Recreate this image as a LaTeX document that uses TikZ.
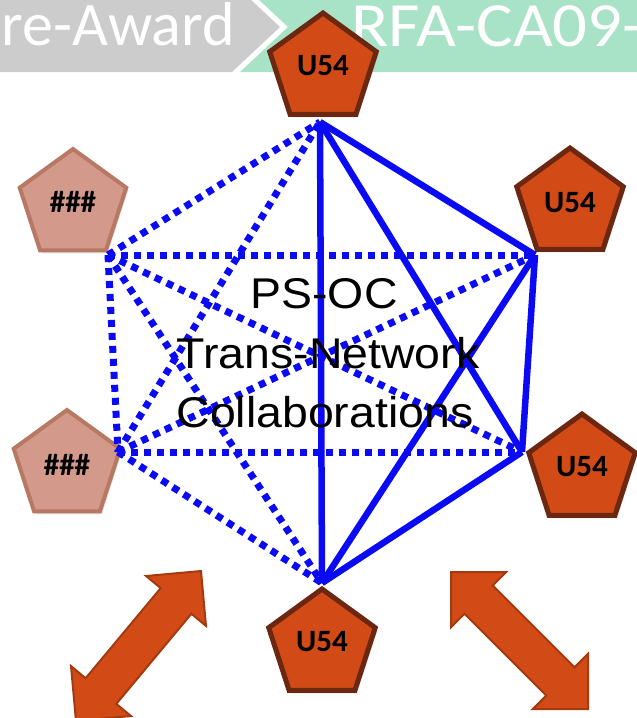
\documentclass[tikz,border=0pt]{standalone}
\usepackage{fontspec}
\setmainfont{Carlito}
\newfontfamily\arialfont{Liberation Sans}
\usetikzlibrary{shapes.geometric,shadows,calc}
\definecolor{bannergray}{HTML}{CCCCCC}
\definecolor{bannergreen}{HTML}{A8E3C8}
\definecolor{uorange}{HTML}{D24B16}
\definecolor{ubrown}{HTML}{6B2710}
\definecolor{salmon}{HTML}{D3998A}
\definecolor{salmonedge}{HTML}{B77864}
\definecolor{arrowedge}{HTML}{A33A10}
\definecolor{netblue}{HTML}{0A0AF5}
\tikzset{
  x=1pt,y=-1pt,
  upent/.style={regular polygon, regular polygon sides=5, minimum size=112pt, inner sep=0pt,
    fill=uorange, draw=ubrown, line width=5pt, line join=miter,
    drop shadow={opacity=0.25, shadow xshift=2pt, shadow yshift=-3pt}},
  hpent/.style={regular polygon, regular polygon sides=5, minimum size=112pt, inner sep=0pt,
    fill=salmon, draw=salmonedge, line width=4pt, line join=miter,
    drop shadow={opacity=0.2, shadow xshift=2pt, shadow yshift=-3pt}},
  plabel/.style={font=\fontsize{31}{31}\selectfont\bfseries, text=black, inner sep=0pt},
  solidlink/.style={draw=netblue, line width=6.5pt, line cap=butt},
  dotlink/.style={draw=netblue, line width=7pt, dash pattern=on 7pt off 6pt},
  midtext/.style={font=\arialfont\fontsize{43}{43}\selectfont, text=black, inner sep=0pt, anchor=base},
  bannertext/.style={text=white, inner sep=0pt},
  bigarrow/.style={fill=uorange, draw=arrowedge, line width=2pt, line join=miter},
}
\newcommand{\dblarrow}[2]{%
  \coordinate (h1) at ($(#1)!39pt!(#2)$);
  \coordinate (h2) at ($(#2)!39pt!(#1)$);
  \path[bigarrow] (#1) -- ($(h1)!39pt!90:(#2)$) -- ($(h1)!20pt!90:(#2)$)
    -- ($(h2)!20pt!-90:(#1)$) -- ($(h2)!39pt!-90:(#1)$) -- (#2)
    -- ($(h2)!39pt!90:(#1)$) -- ($(h2)!20pt!90:(#1)$)
    -- ($(h1)!20pt!-90:(#2)$) -- ($(h1)!39pt!-90:(#2)$) -- cycle;}
\begin{document}
\begin{tikzpicture}
\useasboundingbox (0,0) rectangle (637,718);
\clip (0,0) rectangle (637,718);
% banner
\fill[bannergray] (-5,-18) -- (232,-18) -- (280,27) -- (232,72) -- (-5,72) -- cycle;
\fill[bannergreen] (240,-18) -- (650,-18) -- (650,72) -- (240,72) -- (288,27) -- cycle;
\node[bannertext, anchor=base east, font=\fontsize{62}{62}\selectfont] (pre) at (235,45.5) {re-Award};
\node[bannertext, anchor=base west, font=\fontsize{63}{63}\selectfont] (rfa) at (351,46) {\scalebox{1.09}[1]{RFA-CA09-}};
% pentagons
\node[upent] (ptop) at (323,69) {};
\node[upent] (pru) at (570,204) {};
\node[upent] (prl) at (582,470) {};
\node[upent] (pbot) at (322,645) {};
\node[hpent] (plu) at (73,205) {};
\node[hpent] (pll) at (67,466) {};
\node[plabel] (tt) at ([yshift=3pt]ptop.center) {U54};
\node[plabel] (tru) at ([yshift=1pt]pru.center) {U54};
\node[plabel] (trl) at ([yshift=3pt]prl.center) {U54};
\node[plabel] (tbot) at ([yshift=3pt]pbot.center) {U54};
\node[plabel] (tlu) at ([yshift=3pt]plu.center) {\#\#\#};
\node[plabel] (tll) at ([yshift=1pt]pll.center) {\#\#\#};
% link end points
\coordinate (A) at (320,122);
\coordinate (B) at (535,255);
\coordinate (C) at (522,452);
\coordinate (D) at (322,583);
\coordinate (E) at (108,255);
\coordinate (F) at (118,452);
% dotted links
\foreach \p in {A,B,C,D,F} \draw[dotlink] (E) -- (\p);
\foreach \p in {A,B,C,D} \draw[dotlink] (F) -- (\p);
% solid links
\draw[solidlink] (A) -- (B);
\draw[solidlink] (A) -- (C);
\draw[solidlink] (A) -- (D);
\draw[solidlink] (B) -- (C);
\draw[solidlink] (B) -- (D);
\draw[solidlink] (C) -- (D);
% centre text
\node[midtext] (l1) at (324,308) {\scalebox{1.08}[1]{PS-OC}};
\node[midtext] (l2) at (328,368) {\scalebox{1.08}[1]{Trans-Network}};
\node[midtext] (l3) at (325,427) {\scalebox{1.08}[1]{Collaborations}};
% double arrows
\coordinate (la1) at (201,571);
\coordinate (la2) at (76,721);
\coordinate (ra1) at (451,572);
\coordinate (ra2) at (588,709);
\dblarrow{la1}{la2}
\dblarrow{ra1}{ra2}
\end{tikzpicture}
\end{document}
